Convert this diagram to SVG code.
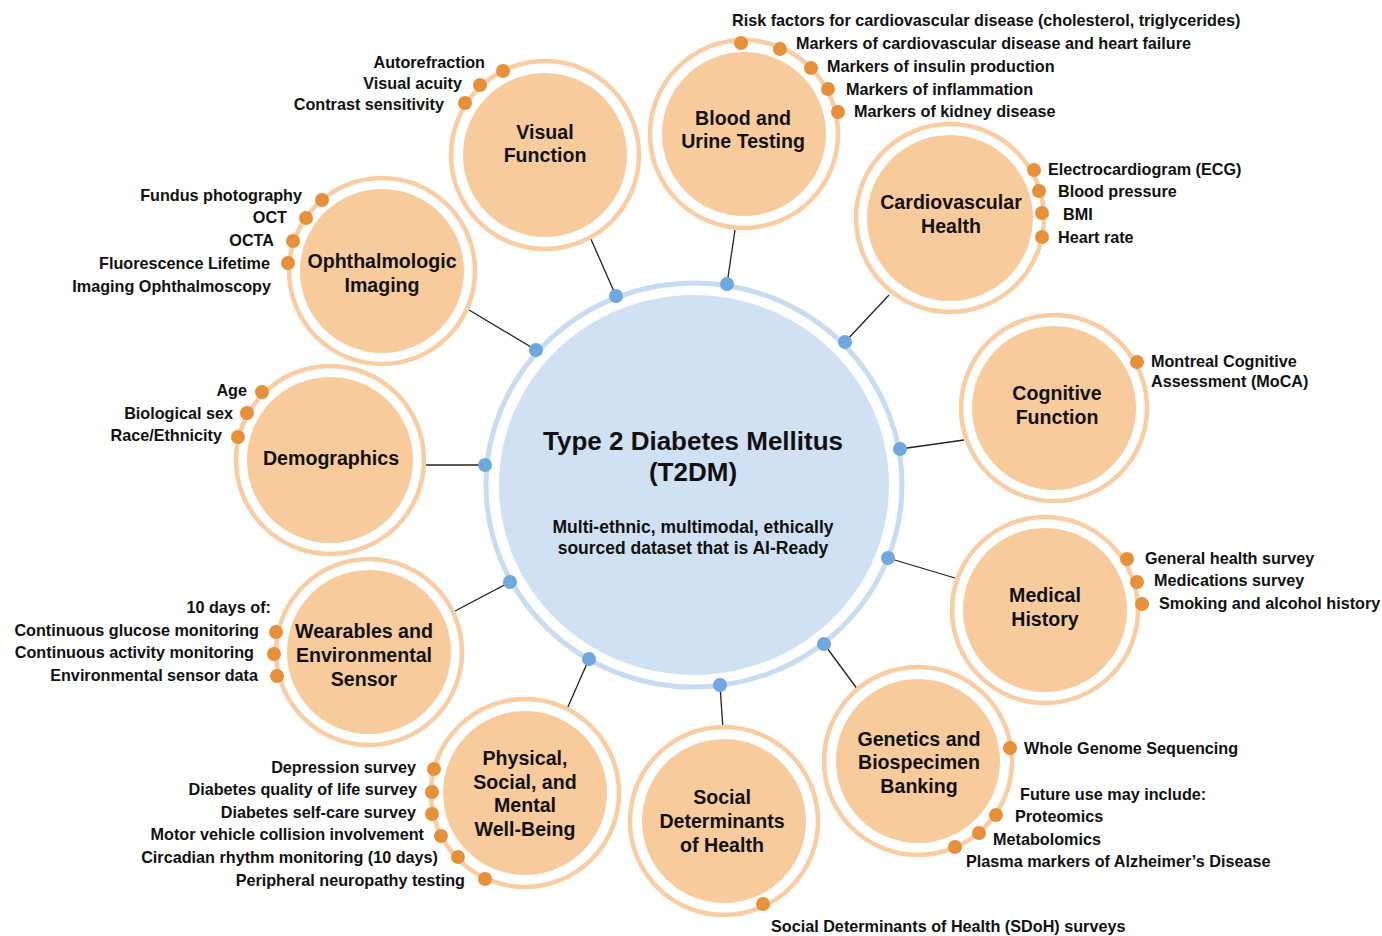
<svg xmlns="http://www.w3.org/2000/svg" width="1382" height="936" viewBox="0 0 1382 936">
<style>
text{font-family:"Liberation Sans",Arial,sans-serif;font-weight:bold;fill:#111}
.lbl{font-size:16.2px}
.nt{font-size:19.6px;text-anchor:middle}
.r{text-anchor:end}
.ring{fill:none;stroke:#f9cca2;stroke-width:4.5}
.core{fill:#f8cb9d}
.od{fill:#e6903a}
.bd{fill:#6fa8dc}
.cn{stroke:#222;stroke-width:1.3;fill:none}
</style>
<rect width="1382" height="936" fill="#fff"/>

<g id="connectors">
<line class="cn" x1="616" y1="296" x2="590" y2="237"/>
<line class="cn" x1="727" y1="284" x2="735" y2="230"/>
<line class="cn" x1="845" y1="342" x2="889" y2="295"/>
<line class="cn" x1="900" y1="449" x2="964" y2="440"/>
<line class="cn" x1="888" y1="558" x2="955" y2="578"/>
<line class="cn" x1="824" y1="644" x2="858" y2="690"/>
<line class="cn" x1="720" y1="685" x2="723" y2="729"/>
<line class="cn" x1="589" y1="659" x2="567" y2="709"/>
<line class="cn" x1="510" y1="582" x2="455" y2="611"/>
<line class="cn" x1="485" y1="465" x2="425" y2="465"/>
<line class="cn" x1="536" y1="350" x2="469" y2="310"/>
</g>

<g id="center">
<ellipse cx="694" cy="485" rx="208" ry="202" fill="none" stroke="#c8dcf1" stroke-width="5"/>
<ellipse cx="694" cy="485" rx="195" ry="190" fill="#cfe1f3"/>
<text x="693" y="450" style="font-size:26px;text-anchor:middle">Type 2 Diabetes Mellitus</text>
<text x="693" y="481" style="font-size:26px;text-anchor:middle">(T2DM)</text>
<text x="693" y="533" style="font-size:17.5px;text-anchor:middle">Multi-ethnic, multimodal, ethically</text>
<text x="693" y="554" style="font-size:17.5px;text-anchor:middle">sourced dataset that is AI-Ready</text>
<circle class="bd" cx="616" cy="296" r="7"/>
<circle class="bd" cx="727" cy="284" r="7"/>
<circle class="bd" cx="845" cy="342" r="7"/>
<circle class="bd" cx="900" cy="449" r="7"/>
<circle class="bd" cx="888" cy="558" r="7"/>
<circle class="bd" cx="824" cy="644" r="7"/>
<circle class="bd" cx="720" cy="685" r="7"/>
<circle class="bd" cx="589" cy="659" r="7"/>
<circle class="bd" cx="510" cy="582" r="7"/>
<circle class="bd" cx="485" cy="465" r="7"/>
<circle class="bd" cx="536" cy="350" r="7"/>
</g>

<g id="visual-function">
<circle class="ring" cx="545" cy="155" r="94"/>
<circle class="core" cx="545" cy="155" r="82"/>
<text class="nt" x="545" y="139">Visual</text>
<text class="nt" x="545" y="162">Function</text>
<circle class="od" cx="503" cy="71" r="7"/>
<circle class="od" cx="480" cy="85" r="7"/>
<circle class="od" cx="465" cy="103" r="7"/>
<text class="lbl r" x="485" y="68">Autorefraction</text>
<text class="lbl r" x="462" y="89">Visual acuity</text>
<text class="lbl r" x="444" y="110">Contrast sensitivity</text>
</g>

<g id="blood-urine">
<circle class="ring" cx="744" cy="134" r="94"/>
<circle class="core" cx="744" cy="134" r="82"/>
<text class="nt" x="743" y="125">Blood and</text>
<text class="nt" x="743" y="148">Urine Testing</text>
<circle class="od" cx="741" cy="43" r="7"/>
<circle class="od" cx="780" cy="49" r="7"/>
<circle class="od" cx="811" cy="68" r="7"/>
<circle class="od" cx="828" cy="89" r="7"/>
<circle class="od" cx="838" cy="112" r="7"/>
<text class="lbl" x="732" y="26">Risk factors for cardiovascular disease (cholesterol, triglycerides)</text>
<text class="lbl" x="796" y="49">Markers of cardiovascular disease and heart failure</text>
<text class="lbl" x="827" y="72">Markers of insulin production</text>
<text class="lbl" x="846" y="95">Markers of inflammation</text>
<text class="lbl" x="854" y="117">Markers of kidney disease</text>
</g>

<g id="cardiovascular">
<circle class="ring" cx="950" cy="218" r="94"/>
<circle class="core" cx="950" cy="218" r="83"/>
<text class="nt" x="951" y="209">Cardiovascular</text>
<text class="nt" x="951" y="233">Health</text>
<circle class="od" cx="1034" cy="170" r="7"/>
<circle class="od" cx="1039" cy="191" r="7"/>
<circle class="od" cx="1042" cy="213" r="7"/>
<circle class="od" cx="1042" cy="237" r="7"/>
<text class="lbl" x="1048" y="175">Electrocardiogram (ECG)</text>
<text class="lbl" x="1058" y="197">Blood pressure</text>
<text class="lbl" x="1063" y="220">BMI</text>
<text class="lbl" x="1058" y="243">Heart rate</text>
</g>

<g id="cognitive">
<circle class="ring" cx="1054" cy="408" r="93"/>
<circle class="core" cx="1054" cy="408" r="82"/>
<text class="nt" x="1057" y="400">Cognitive</text>
<text class="nt" x="1057" y="424">Function</text>
<circle class="od" cx="1137" cy="362" r="7"/>
<text class="lbl" x="1151" y="367">Montreal Cognitive</text>
<text class="lbl" x="1151" y="387">Assessment (MoCA)</text>
</g>

<g id="medical-history">
<circle class="ring" cx="1045" cy="610" r="93"/>
<circle class="core" cx="1045" cy="610" r="82"/>
<text class="nt" x="1045" y="602">Medical</text>
<text class="nt" x="1045" y="626">History</text>
<circle class="od" cx="1127" cy="559" r="7"/>
<circle class="od" cx="1137" cy="582" r="7"/>
<circle class="od" cx="1142" cy="604" r="7"/>
<text class="lbl" x="1145" y="564">General health survey</text>
<text class="lbl" x="1154" y="586">Medications survey</text>
<text class="lbl" x="1159" y="609">Smoking and alcohol history</text>
</g>

<g id="genetics">
<circle class="ring" cx="918" cy="761" r="94"/>
<circle class="core" cx="918" cy="761" r="82"/>
<text class="nt" x="919" y="746">Genetics and</text>
<text class="nt" x="919" y="769">Biospecimen</text>
<text class="nt" x="919" y="793">Banking</text>
<circle class="od" cx="1010" cy="748" r="7"/>
<circle class="od" cx="996" cy="815" r="7"/>
<circle class="od" cx="979" cy="833" r="7"/>
<circle class="od" cx="955" cy="847" r="7"/>
<text class="lbl" x="1024" y="754">Whole Genome Sequencing</text>
<text class="lbl" x="1020" y="800">Future use may include:</text>
<text class="lbl" x="1015" y="822">Proteomics</text>
<text class="lbl" x="993" y="845">Metabolomics</text>
<text class="lbl" x="966" y="867">Plasma markers of Alzheimer’s Disease</text>
</g>

<g id="social-determinants">
<circle class="ring" cx="724" cy="821" r="94"/>
<circle class="core" cx="724" cy="821" r="82"/>
<text class="nt" x="722" y="804">Social</text>
<text class="nt" x="722" y="828">Determinants</text>
<text class="nt" x="722" y="852">of Health</text>
<circle class="od" cx="763" cy="904" r="7"/>
<text class="lbl" x="771" y="932">Social Determinants of Health (SDoH) surveys</text>
</g>

<g id="physical-social-mental">
<circle class="ring" cx="525" cy="793" r="94"/>
<circle class="core" cx="525" cy="793" r="82"/>
<text class="nt" x="525" y="765">Physical,</text>
<text class="nt" x="525" y="789">Social, and</text>
<text class="nt" x="525" y="812">Mental</text>
<text class="nt" x="525" y="836">Well-Being</text>
<circle class="od" cx="434" cy="769" r="7"/>
<circle class="od" cx="432" cy="792" r="7"/>
<circle class="od" cx="432" cy="814" r="7"/>
<circle class="od" cx="441" cy="836" r="7"/>
<circle class="od" cx="458" cy="857" r="7"/>
<circle class="od" cx="485" cy="879" r="7"/>
<text class="lbl r" x="416" y="773">Depression survey</text>
<text class="lbl r" x="417" y="795">Diabetes quality of life survey</text>
<text class="lbl r" x="416" y="818">Diabetes self-care survey</text>
<text class="lbl r" x="424" y="840">Motor vehicle collision involvement</text>
<text class="lbl r" x="438" y="863">Circadian rhythm monitoring (10 days)</text>
<text class="lbl r" x="465" y="886">Peripheral neuropathy testing</text>
</g>

<g id="wearables">
<circle class="ring" cx="369" cy="652" r="93"/>
<circle class="core" cx="369" cy="652" r="82"/>
<text class="nt" x="364" y="638">Wearables and</text>
<text class="nt" x="364" y="662">Environmental</text>
<text class="nt" x="364" y="686">Sensor</text>
<circle class="od" cx="276" cy="632" r="7"/>
<circle class="od" cx="274" cy="654" r="7"/>
<circle class="od" cx="277" cy="676" r="7"/>
<text class="lbl r" x="271" y="613">10 days of:</text>
<text class="lbl r" x="259" y="636">Continuous glucose monitoring</text>
<text class="lbl r" x="254" y="658">Continuous activity monitoring</text>
<text class="lbl r" x="258" y="681">Environmental sensor data</text>
</g>

<g id="demographics">
<circle class="ring" cx="330" cy="460" r="94"/>
<circle class="core" cx="330" cy="460" r="83"/>
<text class="nt" x="331" y="465">Demographics</text>
<circle class="od" cx="262" cy="392" r="7"/>
<circle class="od" cx="247" cy="413" r="7"/>
<circle class="od" cx="238" cy="437" r="7"/>
<text class="lbl r" x="247" y="396">Age</text>
<text class="lbl r" x="233" y="419">Biological sex</text>
<text class="lbl r" x="222" y="441">Race/Ethnicity</text>
</g>

<g id="ophthalmologic">
<circle class="ring" cx="382" cy="271" r="93"/>
<circle class="core" cx="382" cy="271" r="82"/>
<text class="nt" x="382" y="268">Ophthalmologic</text>
<text class="nt" x="382" y="292">Imaging</text>
<circle class="od" cx="322" cy="200" r="7"/>
<circle class="od" cx="306" cy="218" r="7"/>
<circle class="od" cx="293" cy="241" r="7"/>
<circle class="od" cx="288" cy="263" r="7"/>
<text class="lbl r" x="302" y="201">Fundus photography</text>
<text class="lbl r" x="287" y="223">OCT</text>
<text class="lbl r" x="274" y="246">OCTA</text>
<text class="lbl r" x="270" y="269">Fluorescence Lifetime</text>
<text class="lbl r" x="271" y="292">Imaging Ophthalmoscopy</text>
</g>
</svg>
